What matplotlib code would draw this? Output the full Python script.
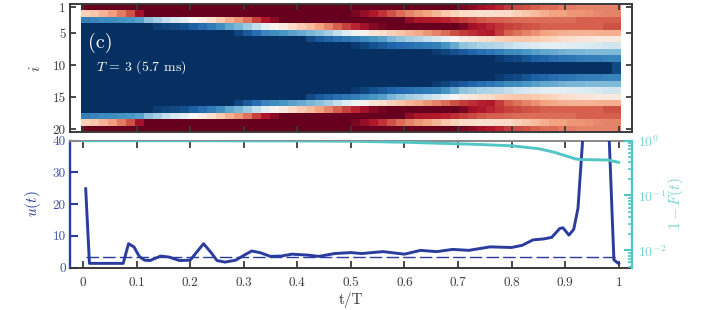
import matplotlib
matplotlib.use("Agg")
import matplotlib.pyplot as plt
import numpy as np
from matplotlib.ticker import NullFormatter, LogLocator

plt.rcParams['font.family'] = ['cmr10', 'DejaVu Sans']
plt.rcParams['mathtext.fontset'] = 'cm'
plt.rcParams['axes.unicode_minus'] = False
plt.rcParams['axes.formatter.use_mathtext'] = True

# Heatmap rows 1..10 (rows 11..20 mirror them); 60 time columns
row1 = [0]*42 + [.03,.05,.08,.1,.12,.15,.17,.18,.2,.22,.22,.24,.24,.25,.25,.25,.25,.25]
row2 = [.38,.36,.33,.29,.24,.18,.08] + [0]*23 + [.03,.06,.1,.14,.18,.22,.25,.28,.3,.33,.36,.38,.4,.41,.42,.42,.41,.4,.38,.36,.34,.32,.3,.3,.28,.28,.27,.26,.25,.25]
row3 = [.84,.83,.82,.81,.8,.79,.77,.71,.67,.62,.58,.55,.5,.46,.42,.37,.32,.28,.23,.16,.09,.05] + [0]*14 + [.06,.09,.1,.1,.11,.13,.15,.17,.19,.2,.2,.21,.22,.22,.22,.22,.22,.22,.22,.2,.2,.2,.2,.2]
row4 = [1]*8 + [.97,.96,.95,.94,.91,.88,.85,.81,.76,.73,.68,.62,.55,.49,.45,.41,.37,.34,.3,.25,.2,.16,.12,.08,.04,.02,0,0,0,0,0,0,0,0,.03,.08,.1,.12,.14,.16,.17,.18,.19,.2,.2,.2,.2,.2,.2,.2,.18,.18]
row5 = [1]*17 + [.96,.92,.88,.83,.81,.79,.77,.75,.73,.71,.67,.62,.57,.52,.48,.44,.42,.38,.36,.33,.31,.28,.25,.22,.18,.15,.13,.11,.1,.15,.2,.23,.25,.27,.3,.31,.32,.33,.33,.33,.32,.32,.32]
row6 = [1]*25 + [.95,.92,.9,.88,.86,.84,.82,.79,.77,.73,.7,.67,.65,.62,.59,.55,.5,.46,.44,.42,.4,.38,.37,.36,.36,.37,.38,.39,.41,.42,.43,.44,.45,.45,.45]
row7 = [1]*30 + [.98,.96,.94,.92,.9,.89,.88,.86,.85,.84,.8,.75,.7,.68,.66,.65,.64,.62,.6,.58,.57,.55,.55,.55,.56,.56,.57,.58,.6,.6]
row8 = [1]*39 + [.98,.96,.94,.92,.9,.88,.86,.84,.82,.81,.79,.77,.76,.75,.74,.73,.73,.72,.72,.72,.72,.72][:21]
row9 = [1]*46 + [.98,.96,.95,.93,.91,.9,.88,.87,.86,.85,.84,.84,.83,.83]
row10 = [1]*59 + [.95]
half = [row1, row2, row3, row4, row5, row6, row7, row8, row9, row10]

# Control and infidelity curves
t_u = [.005,.012,.075,.085,.095,.105,.115,.125,.145,.16,.18,.2,.225,.24,.25,.265,.285,.3,.315,.33,.35,.37,.39,.42,.44,.47,.5,.52,.56,.6,.63,.66,.69,.72,.76,.8,.82,.84,.86,.875,.89,.896,.907,.916,.924,.935,.981,.991,1.0]
u = [24.8,1.3,1.3,7.5,6.5,3.5,2.3,2.2,3.6,3.3,2.2,2.3,7.5,4.5,2.2,1.7,2.3,3.8,5.2,4.7,3.5,3.6,4.2,3.9,3.5,4.4,4.7,4.4,5.0,4.2,5.4,5.0,5.7,5.4,6.5,6.3,7.0,8.7,9.0,9.5,12.3,12.5,10.2,12.0,18.7,46,46,2.4,1.2]
u_mean = [3.2, 3.2]
t_mean = [0.005, 1.0]
t_f = [0.0,.2,.4,.5,.6,.7,.75,.8,.85,.88,.9,.92,.93,.98,1.0]
infid = [.99,.99,.98,.97,.93,.87,.84,.80,.71,.61,.53,.46,.45,.44,.40]

row_ticks = [1, 5, 10, 15, 20]
t_ticks = [0, .1, .2, .3, .4, .5, .6, .7, .8, .9, 1]
t_labels = ['0', '0.1', '0.2', '0.3', '0.4', '0.5', '0.6', '0.7', '0.8', '0.9', '1']
u_ticks = [0, 10, 20, 30, 40]

W, H = 702, 310
DARK = '#3a3a3a'
BLUE = '#2a3c9e'
CYAN = '#52c5c5'
TICKBLUE = '#3f50a8'
TICKCYAN = '#7ad3d3'

def box(l, t, r, b):
    return [l/W, 1-b/H, (r-l)/W, (b-t)/H]

fig = plt.figure(figsize=(W/100, H/100), dpi=100)
xlim = (-0.0243, 1.0248)

ax = fig.add_axes(box(70, 4.2, 632, 132.2))
data = np.array(half + half[::-1], dtype=float)
ax.imshow(data, cmap='RdBu', vmin=0, vmax=1, aspect='auto', interpolation='nearest',
          extent=[-0.004, 1.004, 20.5, 0.5])
ax.set_xlim(*xlim)
ax.set_ylim(20.5, 0.5)
ax.set_xticks(t_ticks)
ax.set_xticklabels([])
ax.set_yticks(row_ticks)
ax.set_yticklabels([str(v) for v in row_ticks], fontsize=9.5, color=DARK)
ax.tick_params(direction='in', length=4, width=1.3, color=DARK, top=True, right=True, pad=3)
for s in ax.spines.values():
    s.set_linewidth(1.4)
    s.set_color(DARK)
ax.set_ylabel('$i$', fontsize=11, color=DARK, labelpad=7)
ax.text(88, 43, '(c)', color='white', fontsize=14.5, va='center', ha='left',
        transform=fig.dpi_scale_trans.inverted().__add__(fig.dpi_scale_trans) if False else None) if False else None
fig.text(88/W, 1-43/H, '(c)', color='white', fontsize=14.5, va='center', ha='left')
fig.text(96/W, 1-67/H, r'$T$ = 3 (5.7 ms)', color='white', fontsize=10, va='center', ha='left')

ax2 = fig.add_axes(box(70, 140.5, 632, 267.5))
ax2.plot(t_u, u, color=BLUE, lw=2.1, solid_joinstyle='round', zorder=3)
ax2.plot(t_mean, u_mean, color=BLUE, lw=1.0, ls=(0, (9, 3)), zorder=2)
ax2.set_xlim(*xlim)
ax2.set_ylim(0, 40)
ax2.set_xticks(t_ticks)
ax2.set_xticklabels(t_labels, fontsize=9.5, color=DARK)
ax2.set_yticks(u_ticks)
ax2.set_yticklabels([str(v) for v in u_ticks], fontsize=9.5, color=TICKBLUE)
ax2.tick_params(axis='x', direction='in', length=5, width=1.3, color=DARK, top=True, pad=7)
ax2.tick_params(axis='y', direction='in', length=6, width=1.5, color=BLUE, pad=3)
ax2.set_xlabel('t/T', fontsize=11, color=DARK, labelpad=2)
ax2.set_ylabel('$u(t)$', fontsize=11, color=BLUE, labelpad=7)
ax2.spines['left'].set_color(BLUE)
ax2.spines['left'].set_linewidth(1.7)
ax2.spines['bottom'].set_color(DARK)
ax2.spines['bottom'].set_linewidth(1.4)
ax2.spines['top'].set_color('#8a8a8a')
ax2.spines['top'].set_linewidth(1.4)
ax2.spines['right'].set_visible(False)

ax3 = ax2.twinx()
ax3.plot(t_f, infid, color=CYAN, lw=2.1, zorder=3)
ax3.set_yscale('log')
ax3.set_ylim(0.00484, 1)
ax3.set_xlim(*xlim)
ax3.set_yticks([1, .1, .01])
ax3.set_yticklabels(['$10^{0}$', '$10^{-1}$', '$10^{-2}$'], fontsize=10, color=TICKCYAN)
ax3.yaxis.set_minor_locator(LogLocator(base=10, subs=np.arange(2, 10), numticks=12))
ax3.yaxis.set_minor_formatter(NullFormatter())
ax3.tick_params(axis='y', which='major', direction='in', length=6, width=1.5, color=CYAN, pad=4)
ax3.tick_params(axis='y', which='minor', direction='in', length=3, width=1.2, color=CYAN)
for name, s in ax3.spines.items():
    s.set_visible(name == 'right')
ax3.spines['right'].set_color(CYAN)
ax3.spines['right'].set_linewidth(1.7)
ax3.set_ylabel('$1-F(t)$', fontsize=11, color=TICKCYAN, labelpad=0)

fig.savefig('out.png', dpi=100)
